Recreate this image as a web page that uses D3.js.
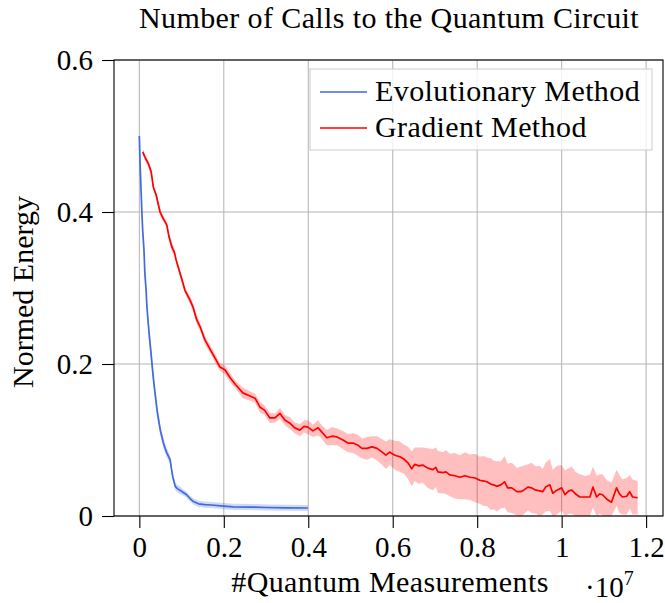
<!DOCTYPE html>
<html>
<head>
<meta charset="utf-8">
<script src="https://cdn.jsdelivr.net/npm/d3@7"></script>
<style>
    body { margin: 0; background: white; }
    text { font-family: 'Liberation Serif', 'DejaVu Serif', serif; fill: black; }
</style>
</head>
<body>
<div id="chart"></div>
<script>
// [x (1e7 measurements), mean normed energy, spread]
const evolutionary = [
    [0.000,0.500,0.002],[0.002,0.460,0.004],[0.004,0.430,0.006],[0.006,0.400,0.006],[0.008,0.375,0.007],
    [0.011,0.350,0.007],[0.013,0.320,0.008],[0.016,0.297,0.008],[0.018,0.275,0.008],[0.021,0.254,0.009],
    [0.024,0.235,0.009],[0.027,0.218,0.010],[0.030,0.200,0.010],[0.032,0.188,0.009],[0.035,0.172,0.009],
    [0.038,0.158,0.008],[0.042,0.139,0.008],[0.046,0.125,0.008],[0.050,0.112,0.007],[0.057,0.096,0.007],
    [0.061,0.089,0.006],[0.065,0.083,0.006],[0.073,0.074,0.006],[0.076,0.062,0.006],[0.079,0.052,0.005],
    [0.085,0.039,0.005],[0.090,0.036,0.005],[0.096,0.034,0.005],[0.104,0.031,0.004],[0.112,0.028,0.004],
    [0.120,0.023,0.004],[0.128,0.019,0.004],[0.140,0.016,0.004],[0.155,0.015,0.004],[0.170,0.0145,0.004],
    [0.200,0.013,0.004],[0.222,0.012,0.004],[0.260,0.0118,0.004],[0.300,0.0112,0.004],[0.350,0.0108,0.004],
    [0.399,0.0105,0.004]
]

const gradient = [
    [0.008,0.479,0.004],[0.0135,0.472,0.004],[0.021,0.464,0.004],[0.028,0.453,0.005],[0.033,0.433,0.004],
    [0.040,0.422,0.004],[0.049,0.400,0.005],[0.056,0.392,0.004],[0.065,0.383,0.004],[0.070,0.368,0.005],
    [0.077,0.354,0.006],[0.083,0.347,0.005],[0.087,0.337,0.004],[0.096,0.320,0.005],[0.103,0.307,0.005],
    [0.108,0.297,0.004],[0.120,0.284,0.005],[0.127,0.275,0.005],[0.136,0.258,0.006],[0.144,0.249,0.005],
    [0.155,0.232,0.006],[0.167,0.220,0.005],[0.179,0.208,0.006],[0.191,0.196,0.005],[0.203,0.192,0.006],
    [0.215,0.182,0.006],[0.229,0.172,0.005],[0.245,0.162,0.007],[0.262,0.158,0.006],[0.274,0.155,0.006],
    [0.286,0.143,0.007],[0.297,0.139,0.006],[0.309,0.129,0.007],[0.321,0.129,0.006],[0.333,0.135,0.007],
    [0.345,0.126,0.007],[0.357,0.122,0.008],[0.368,0.116,0.007],[0.380,0.113,0.008],[0.390,0.118,0.008],
    [0.399,0.117,0.009],[0.411,0.112,0.008],[0.423,0.116,0.010],[0.428,0.113,0.009],[0.444,0.103,0.010],
    [0.456,0.105,0.012],[0.468,0.104,0.011],[0.482,0.100,0.012],[0.494,0.096,0.012],[0.506,0.096,0.013],
    [0.518,0.093,0.014],[0.527,0.089,0.013],[0.539,0.089,0.015],[0.551,0.091,0.014],[0.563,0.089,0.016],
    [0.575,0.084,0.017],[0.584,0.080,0.018],[0.593,0.084,0.017],[0.605,0.080,0.019],[0.617,0.078,0.020],
    [0.626,0.075,0.019],[0.636,0.070,0.021],[0.645,0.062,0.023],[0.652,0.068,0.022],[0.662,0.066,0.024],
    [0.671,0.067,0.023],[0.683,0.063,0.026],[0.695,0.061,0.027],[0.702,0.064,0.026],[0.707,0.058,0.028],
    [0.719,0.057,0.027],[0.726,0.058,0.029],[0.735,0.054,0.028],[0.747,0.053,0.030],[0.759,0.051,0.029],
    [0.771,0.053,0.031],[0.783,0.051,0.030],[0.795,0.050,0.032],[0.806,0.047,0.031],[0.816,0.046,0.033],
    [0.823,0.045,0.032],[0.832,0.042,0.034],[0.839,0.041,0.032],[0.846,0.039,0.033],[0.856,0.041,0.031],
    [0.865,0.045,0.034],[0.872,0.037,0.032],[0.882,0.037,0.033],[0.894,0.032,0.031],[0.903,0.032,0.033],
    [0.910,0.034,0.032],[0.920,0.038,0.030],[0.929,0.037,0.033],[0.939,0.034,0.031],[0.948,0.033,0.033],
    [0.955,0.032,0.030],[0.962,0.038,0.032],[0.972,0.041,0.034],[0.979,0.030,0.031],[0.989,0.034,0.032],
    [1.000,0.037,0.030],[1.008,0.028,0.032],[1.017,0.033,0.030],[1.024,0.034,0.031],[1.033,0.029,0.029],
    [1.043,0.025,0.030],[1.055,0.025,0.028],[1.067,0.025,0.029],[1.074,0.038,0.027],[1.083,0.025,0.028],
    [1.090,0.029,0.026],[1.097,0.028,0.027],[1.107,0.022,0.025],[1.118,0.018,0.026],[1.130,0.037,0.024],
    [1.137,0.029,0.025],[1.144,0.025,0.023],[1.154,0.026,0.024],[1.161,0.032,0.022],[1.168,0.025,0.023],
    [1.180,0.024,0.022]
]

const xTicks = [0, 0.2, 0.4, 0.6, 0.8, 1, 1.2]
const xTickLabels = ['0', '0.2', '0.4', '0.6', '0.8', '1', '1.2']
const yTicks = [0, 0.2, 0.4, 0.6]
const yTickLabels = ['0', '0.2', '0.4', '0.6']

const seriesNames = ['Evolutionary Method', 'Gradient Method']
const seriesColors = ['#4169e1', '#ff0000']

let width = 665,
    height = 603
let plot = { left: 114, right: 663, top: 60, bottom: 516 }
let tickFontSize = 29
let labelFontSize = 30
let spacing = '0.4px'

let svg = d3.select('#chart').append('svg')
    .attr('width', width)
    .attr('height', height)

let scaleX = d3.scaleLinear().domain([-0.06, 1.24]).range([plot.left, plot.right])
let scaleY = d3.scaleLinear().domain([0, 0.6]).range([plot.bottom, plot.top])

svg.append('clipPath').attr('id', 'plot-clip')
    .append('rect')
    .attr('x', plot.left).attr('y', plot.top)
    .attr('width', plot.right - plot.left)
    .attr('height', plot.bottom - plot.top)

// grid
let grid = svg.append('g').attr('stroke', '#b3b3b3').attr('stroke-width', 1)
xTicks.forEach(t => {
    grid.append('line')
        .attr('x1', scaleX(t)).attr('x2', scaleX(t))
        .attr('y1', plot.top).attr('y2', plot.bottom)
})
yTicks.forEach(t => {
    grid.append('line')
        .attr('x1', plot.left).attr('x2', plot.right)
        .attr('y1', scaleY(t)).attr('y2', scaleY(t))
})

// bands and lines
let area = d3.area()
    .x(d => scaleX(d[0]))
    .y0(d => scaleY(Math.max(0, d[1] - d[2])))
    .y1(d => scaleY(d[1] + d[2]))
let line = d3.line()
    .x(d => scaleX(d[0]))
    .y(d => scaleY(d[1]))

let marks = svg.append('g').attr('clip-path', 'url(#plot-clip)')
;[evolutionary, gradient].forEach((series, i) => {
    marks.append('path')
        .attr('d', area(series))
        .attr('fill', seriesColors[i])
        .attr('fill-opacity', 0.25)
        .attr('stroke', 'none')
})
;[evolutionary, gradient].forEach((series, i) => {
    marks.append('path')
        .attr('d', line(series))
        .attr('fill', 'none')
        .attr('stroke', seriesColors[i])
        .attr('stroke-width', 1.7)
        .attr('stroke-linejoin', 'round')
})

// axes
let xAxis = d3.axisBottom(scaleX)
    .tickValues(xTicks)
    .tickFormat((d, i) => xTickLabels[i])
    .tickSizeInner(12)
    .tickSizeOuter(0)
    .tickPadding(8)
let yAxis = d3.axisLeft(scaleY)
    .tickValues(yTicks)
    .tickFormat((d, i) => yTickLabels[i])
    .tickSizeInner(12)
    .tickSizeOuter(0)
    .tickPadding(9)

let $x = svg.append('g')
    .attr('transform', 'translate(0,' + plot.bottom + ')')
    .call(xAxis)
let $y = svg.append('g')
    .attr('transform', 'translate(' + plot.left + ',0)')
    .call(yAxis)
;[$x, $y].forEach($a => {
    $a.select('.domain').remove()
    $a.selectAll('.tick line').attr('stroke', 'black').attr('stroke-width', 1.1)
    $a.selectAll('.tick text')
        .attr('font-family', "'Liberation Serif', serif")
        .attr('font-size', tickFontSize)
        .attr('fill', 'black')
})

// frame
svg.append('rect')
    .attr('x', plot.left).attr('y', plot.top)
    .attr('width', plot.right - plot.left)
    .attr('height', plot.bottom - plot.top)
    .attr('fill', 'none')
    .attr('stroke', 'black')
    .attr('stroke-width', 1.1)

// legend
let legend = svg.append('g')
legend.append('rect')
    .attr('x', 310).attr('y', 69)
    .attr('width', 342).attr('height', 81)
    .attr('fill', 'white').attr('fill-opacity', 0.8)
    .attr('stroke', '#cccccc').attr('stroke-width', 1)
seriesNames.forEach((name, i) => {
    let y = 92 + i * 36
    legend.append('line')
        .attr('x1', 320).attr('x2', 367)
        .attr('y1', y).attr('y2', y)
        .attr('stroke', seriesColors[i])
        .attr('stroke-width', 1.7)
    legend.append('text')
        .attr('x', 375).attr('y', y + 9)
        .attr('font-size', labelFontSize)
        .attr('letter-spacing', spacing)
        .text(name)
})

// titles
svg.append('text')
    .attr('x', 389).attr('y', 28)
    .attr('text-anchor', 'middle')
    .attr('font-size', labelFontSize)
    .attr('letter-spacing', spacing)
    .text('Number of Calls to the Quantum Circuit')

svg.append('text')
    .attr('x', 390).attr('y', 592)
    .attr('text-anchor', 'middle')
    .attr('font-size', labelFontSize)
    .attr('letter-spacing', spacing)
    .text('#Quantum Measurements')

let expo = svg.append('text')
    .attr('x', 585).attr('y', 597)
    .attr('font-size', tickFontSize)
expo.append('tspan').text('\u00b710')
expo.append('tspan')
    .attr('dy', -12)
    .attr('font-size', 20)
    .text('7')

svg.append('text')
    .attr('transform', 'translate(33,292) rotate(-90)')
    .attr('text-anchor', 'middle')
    .attr('font-size', labelFontSize)
    .text('Normed Energy')
</script>
</body>
</html>
